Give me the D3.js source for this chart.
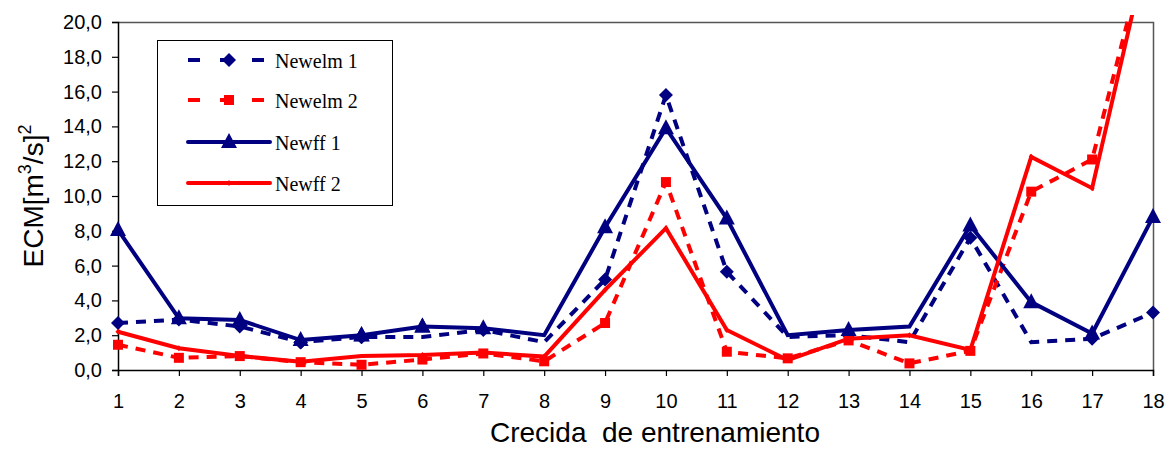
<!DOCTYPE html>
<html>
<head>
<meta charset="utf-8">
<script src="https://cdn.jsdelivr.net/npm/d3@7"></script>
<style>
  body { margin: 0; background: #fff; }
  svg { display: block; }
</style>
</head>
<body>
<svg id="chart" width="1171" height="449"></svg>
<script>
// data
var crecidas = [1, 2, 3, 4, 5, 6, 7, 8, 9, 10, 11, 12, 13, 14, 15, 16, 17, 18];
var newelm1 = [2.7, 2.9, 2.5, 1.6, 1.9, 1.9, 2.3, 1.6, 5.2, 15.8, 5.65, 1.9, 2.0, 1.6, 7.6, 1.6, 1.8, 3.3];
var newelm2 = [1.45, 0.7, 0.8, 0.45, 0.3, 0.6, 0.95, 0.5, 2.7, 10.8, 1.05, 0.67, 1.7, 0.38, 1.1, 10.25, 12.1, 25.7];
var newff1 = [8.05, 2.97, 2.87, 1.72, 2.0, 2.5, 2.4, 2.0, 8.2, 13.9, 8.7, 2.0, 2.3, 2.5, 8.3, 3.9, 2.1, 8.8];
var newff2 = [2.2, 1.25, 0.8, 0.48, 0.8, 0.86, 1.0, 0.77, 4.6, 8.15, 2.3, 0.57, 1.8, 2.0, 1.15, 12.25, 10.45, 25.6];
var yTicks = [0, 2, 4, 6, 8, 10, 12, 14, 16, 18, 20];

var NAVY = '#000080', RED = '#ff0000';
var SANS = 'Liberation Sans, Arial, sans-serif';

var series = [
  { name: 'Newelm 1', values: newelm1, color: NAVY, dash: '10,8', marker: 'diamond' },
  { name: 'Newelm 2', values: newelm2, color: RED, dash: '10,8', marker: 'square' },
  { name: 'Newff 1', values: newff1, color: NAVY, dash: null, marker: 'triangle' },
  { name: 'Newff 2', values: newff2, color: RED, dash: null, marker: 'tick' }
];

var margin = { top: 22, right: 18, bottom: 79, left: 118 };
var svg = d3.select('#chart');
var width = 1171 - margin.left - margin.right;
var height = 449 - margin.top - margin.bottom;

var x = d3.scaleLinear().domain([1, 18]).range([0, width]);
var y = d3.scaleLinear().domain([0, 20]).range([height, 0]);

var g = svg.append('g').attr('transform', 'translate(' + margin.left + ',' + margin.top + ')');

svg.append('defs').append('clipPath').attr('id', 'clip')
  .append('rect').attr('x', -10).attr('y', -7).attr('width', width + 20).attr('height', height + 17);

// plot box (top / right)
g.append('path')
  .attr('d', 'M0,0.5H' + (width + 0.5) + 'V' + height)
  .attr('fill', 'none').attr('stroke', '#555').attr('stroke-width', 1.5);

function styleAxis(a) {
  a.select('.domain').attr('stroke', '#000').attr('stroke-width', 1.5);
  a.selectAll('.tick line').attr('stroke', '#000').attr('stroke-width', 1.2);
  a.selectAll('text').attr('font-family', SANS).attr('font-size', 20).attr('fill', '#000');
}

// y axis
var yAxis = d3.axisLeft(y).tickValues(yTicks).tickSize(6).tickPadding(10)
  .tickFormat(function(d) { return d3.format('.1f')(d).replace('.', ','); });
g.append('g').call(yAxis).call(styleAxis);

// x axis
var xAxis = d3.axisBottom(x).tickValues(crecidas).tickSize(6).tickPadding(18).tickFormat(d3.format('d'));
g.append('g').attr('transform', 'translate(0,' + height + ')').call(xAxis).call(styleAxis);

// axis titles
svg.append('text')
  .attr('x', 655).attr('y', 442)
  .attr('text-anchor', 'middle')
  .attr('font-family', SANS).attr('font-size', 28)
  .attr('xml:space', 'preserve')
  .text('Crecida  de entrenamiento');

var yt = svg.append('text')
  .attr('transform', 'translate(43,196) rotate(-90)')
  .attr('text-anchor', 'middle')
  .attr('font-family', SANS).attr('font-size', 28);
yt.append('tspan').text('ECM[m');
yt.append('tspan').attr('font-size', 18).attr('dy', -12).text('3');
yt.append('tspan').attr('dy', 12).text('/s]');
yt.append('tspan').attr('font-size', 18).attr('dy', -12).text('2');

// markers
function drawMarker(sel, type, color) {
  if (type === 'diamond') {
    sel.append('path').attr('d', 'M0,-7L7,0L0,7L-7,0Z').attr('fill', color);
  } else if (type === 'square') {
    sel.append('rect').attr('x', -5).attr('y', -5).attr('width', 10).attr('height', 10).attr('fill', color);
  } else if (type === 'triangle') {
    sel.append('path').attr('d', 'M0,-9L8,6L-8,6Z').attr('fill', color);
  } else {
    sel.append('path').attr('d', 'M0,-3L2.5,0L0,3L-2.5,0Z').attr('fill', color);
  }
}

var line = d3.line()
  .x(function(d, i) { return x(crecidas[i]); })
  .y(function(d) { return y(d); });

var plot = g.append('g').attr('clip-path', 'url(#clip)');

series.forEach(function(s) {
  var sg = plot.append('g');
  sg.append('path')
    .datum(s.values)
    .attr('d', line)
    .attr('fill', 'none')
    .attr('stroke', s.color)
    .attr('stroke-width', 4)
    .attr('stroke-dasharray', s.dash)
    .attr('stroke-linejoin', 'miter');
  sg.selectAll('.pt')
    .data(s.values.filter(function(v) { return v <= 20; }))
    .enter().append('g')
    .attr('class', 'pt')
    .attr('transform', function(d) {
      var i = s.values.indexOf(d);
      return 'translate(' + x(crecidas[i]) + ',' + y(d) + ')';
    })
    .each(function() { drawMarker(d3.select(this), s.marker, s.color); });
});

// legend
var lg = svg.append('g').attr('transform', 'translate(157,40)');
lg.append('rect').attr('x', 0.5).attr('y', 0.5).attr('width', 235).attr('height', 165)
  .attr('fill', '#fff').attr('stroke', '#000').attr('stroke-width', 1);
var rowY = [20, 60, 102, 143];
series.forEach(function(s, i) {
  var row = lg.append('g').attr('transform', 'translate(0,' + rowY[i] + ')');
  row.append('line').attr('x1', 31).attr('x2', 113).attr('y1', 0).attr('y2', 0)
    .attr('stroke', s.color).attr('stroke-width', 4)
    .attr('stroke-linecap', s.dash ? 'butt' : 'round')
    .attr('stroke-dasharray', s.dash ? '12,20' : null);
  var m = row.append('g').attr('transform', 'translate(72,0)');
  drawMarker(m, s.marker, s.color);
  row.append('text').attr('x', 118).attr('y', 8)
    .attr('font-family', 'Liberation Serif, Times New Roman, serif').attr('font-size', 20)
    .text(s.name);
});
</script>
</body>
</html>
